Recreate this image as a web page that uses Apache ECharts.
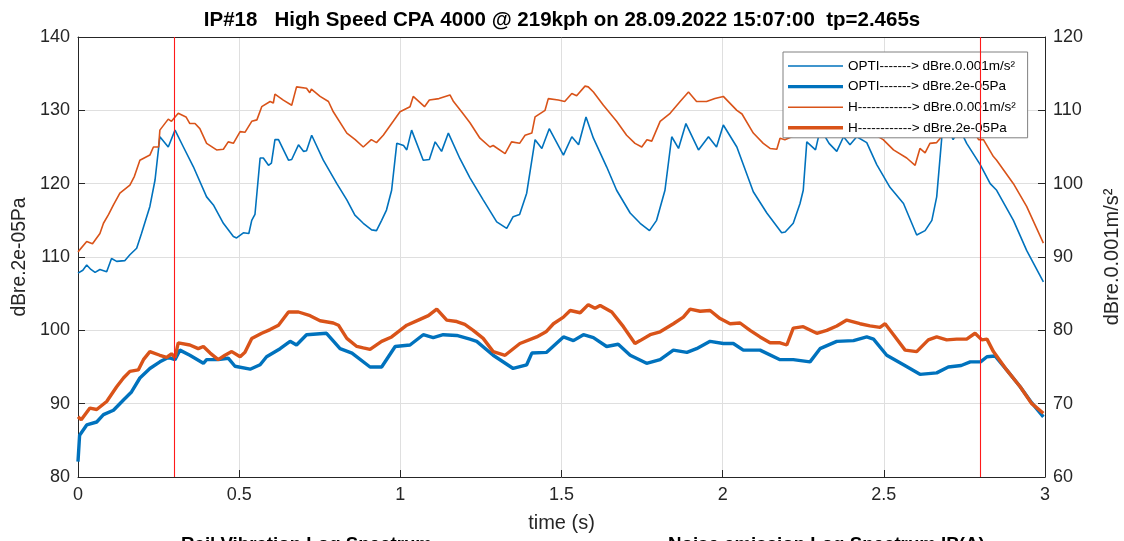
<!DOCTYPE html>
<html>
<head>
<meta charset="utf-8">
<script src="https://cdn.jsdelivr.net/npm/echarts@6/dist/echarts.min.js"></script>
<style>
  html, body { margin: 0; padding: 0; background: #fff; }
  #chart { width: 1124px; height: 541px; }
</style>
</head>
<body>
<div id="chart"></div>
<script>
// ---------------- DATA ----------------
const titleText = 'IP#18   High Speed CPA 4000 @ 219kph on 28.09.2022 15:07:00  tp=2.465s';
const seriesNames = [
  'OPTI-------> dBre.0.001m/s\u00B2',
  'OPTI-------> dBre.2e-05Pa',
  'H------------> dBre.0.001m/s\u00B2',
  'H------------> dBre.2e-05Pa'
];
const markerTimes = [0.3, 2.8];
const xTicks = { min: 0, max: 3, interval: 0.5 };
const leftTicks = { min: 80, max: 140, interval: 10 };
const rightTicks = { min: 60, max: 120, interval: 10 };
const bottomLabels = ['Rail Vibration Log Spectrum', 'Noise emission Log Spectrum IP(A)'];

// OPTI acceleration level (right axis, dBre.0.001m/s²)
const optiAcc = [
  [0.000,87.8],[0.015,88.2],[0.027,88.9],[0.040,88.3],[0.053,87.9],[0.068,88.3],[0.089,88.0],
  [0.104,89.8],[0.120,89.4],[0.145,89.5],[0.161,90.3],[0.182,91.2],[0.197,93.2],[0.223,96.9],
  [0.239,100.5],[0.254,106.4],[0.280,105.0],[0.301,107.3],[0.327,105.0],[0.358,102.3],[0.399,98.2],
  [0.420,97.1],[0.451,94.6],[0.482,92.8],[0.492,92.6],[0.513,93.3],[0.530,93.2],[0.539,95.0],
  [0.549,95.8],[0.565,103.5],[0.575,103.5],[0.591,102.5],[0.600,102.8],[0.611,106.0],[0.622,106.0],
  [0.653,103.2],[0.663,103.3],[0.684,105.3],[0.700,104.4],[0.709,104.5],[0.725,106.6],[0.761,103.2],
  [0.803,100.0],[0.834,97.8],[0.859,95.7],[0.885,94.6],[0.911,93.7],[0.926,93.6],[0.942,95.0],
  [0.957,96.4],[0.973,99.1],[0.989,105.5],[1.010,105.2],[1.020,104.6],[1.035,107.3],[1.071,103.2],
  [1.090,103.3],[1.108,105.7],[1.128,104.4],[1.149,106.9],[1.185,103.4],[1.216,100.8],[1.257,97.8],
  [1.299,94.8],[1.330,93.9],[1.350,95.5],[1.370,95.8],[1.392,98.7],[1.418,106.0],[1.439,104.8],
  [1.462,107.5],[1.506,103.9],[1.532,106.4],[1.553,105.3],[1.576,109.1],[1.599,106.2],[1.640,102.3],
  [1.671,99.1],[1.713,96.0],[1.744,94.6],[1.773,93.6],[1.795,95.0],[1.821,99.1],[1.842,106.4],
  [1.863,104.8],[1.886,108.2],[1.925,104.6],[1.956,106.4],[1.981,105.0],[2.002,108.0],[2.044,105.0],
  [2.095,98.9],[2.137,96.0],[2.183,93.3],[2.194,93.4],[2.219,94.6],[2.240,97.3],[2.250,99.1],
  [2.261,105.7],[2.288,104.6],[2.302,107.3],[2.318,106.4],[2.330,105.5],[2.354,104.4],[2.375,106.4],
  [2.395,105.3],[2.416,106.4],[2.447,105.6],[2.478,102.6],[2.519,99.5],[2.561,97.3],[2.602,93.0],
  [2.628,93.6],[2.649,95.0],[2.664,98.2],[2.680,106.4],[2.695,108.0],[2.715,106.0],[2.735,107.5],
  [2.757,105.5],[2.799,102.6],[2.830,100.0],[2.850,99.1],[2.902,95.0],[2.943,90.9],[2.995,86.6]
];

// OPTI sound level (left axis, dBre.2e-05Pa)
const optiPa = [
  [0.000,82.1],[0.005,85.7],[0.027,87.1],[0.058,87.5],[0.079,88.5],[0.110,89.1],[0.141,90.5],
  [0.166,91.6],[0.192,93.5],[0.223,94.8],[0.254,95.7],[0.280,96.3],[0.301,96.0],[0.316,97.3],
  [0.347,96.6],[0.389,95.5],[0.399,96.0],[0.435,96.0],[0.466,96.2],[0.487,95.1],[0.534,94.7],
  [0.565,95.3],[0.585,96.4],[0.627,97.5],[0.658,98.5],[0.678,98.0],[0.709,99.4],[0.771,99.6],
  [0.813,97.5],[0.850,96.9],[0.906,95.0],[0.942,95.0],[0.984,97.8],[1.030,98.0],[1.071,99.4],
  [1.102,99.0],[1.133,99.4],[1.175,99.3],[1.216,98.8],[1.237,98.5],[1.288,96.6],[1.350,94.8],
  [1.392,95.3],[1.408,96.9],[1.454,97.0],[1.506,99.1],[1.537,98.6],[1.568,99.4],[1.599,99.0],
  [1.640,97.8],[1.676,98.1],[1.713,96.6],[1.764,95.5],[1.806,96.0],[1.847,97.3],[1.889,97.0],
  [1.919,97.5],[1.961,98.5],[2.002,98.2],[2.033,98.2],[2.064,97.3],[2.116,97.3],[2.178,96.0],
  [2.219,96.0],[2.271,95.7],[2.302,97.5],[2.354,98.5],[2.406,98.6],[2.447,99.1],[2.468,98.8],
  [2.509,96.6],[2.561,95.3],[2.612,94.0],[2.664,94.2],[2.700,95.0],[2.740,95.2],[2.768,95.7],
  [2.800,95.7],[2.820,96.4],[2.845,96.5],[2.881,94.6],[2.923,92.3],[2.959,90.1],[2.995,88.2]
];

// H acceleration level (right axis, dBre.0.001m/s²)
const hAcc = [
  [0.000,90.7],[0.027,92.1],[0.045,91.8],[0.068,93.2],[0.079,94.6],[0.095,95.8],[0.110,97.1],
  [0.130,98.7],[0.161,99.8],[0.175,101.0],[0.192,103.2],[0.223,103.9],[0.234,105.0],[0.250,105.0],
  [0.254,107.3],[0.280,108.8],[0.290,108.5],[0.311,109.6],[0.335,109.1],[0.347,108.2],[0.363,108.2],
  [0.378,107.5],[0.399,105.5],[0.430,104.6],[0.451,104.7],[0.466,105.7],[0.482,105.5],[0.503,107.1],
  [0.518,107.0],[0.539,108.5],[0.555,108.7],[0.570,110.5],[0.596,111.2],[0.606,111.0],[0.611,112.2],
  [0.637,111.4],[0.663,110.7],[0.678,113.2],[0.709,113.0],[0.719,112.4],[0.724,112.9],[0.751,111.9],
  [0.777,111.2],[0.792,109.8],[0.834,106.9],[0.860,106.0],[0.885,105.0],[0.910,106.0],[0.926,105.6],
  [0.947,106.6],[0.978,108.5],[0.999,109.8],[1.030,110.5],[1.040,111.9],[1.075,110.5],[1.090,111.4],
  [1.120,111.6],[1.154,112.1],[1.165,111.2],[1.190,109.8],[1.216,108.3],[1.247,106.2],[1.278,105.0],
  [1.288,105.2],[1.325,104.1],[1.345,105.7],[1.370,105.5],[1.387,106.6],[1.408,106.9],[1.418,109.1],
  [1.449,110.0],[1.459,111.6],[1.490,111.4],[1.510,111.2],[1.532,112.3],[1.547,112.0],[1.573,113.3],
  [1.583,113.2],[1.599,112.5],[1.630,110.7],[1.671,108.5],[1.702,106.6],[1.728,105.5],[1.749,105.0],
  [1.765,106.0],[1.780,105.8],[1.806,108.5],[1.837,109.6],[1.868,111.2],[1.894,112.5],[1.919,111.2],
  [1.950,111.2],[1.976,111.6],[2.002,111.9],[2.044,110.0],[2.060,109.5],[2.095,106.9],[2.126,105.5],
  [2.147,104.8],[2.168,104.7],[2.178,106.2],[2.193,106.0],[2.220,106.5],[2.260,107.5],[2.300,107.0],
  [2.340,107.8],[2.380,108.0],[2.420,107.6],[2.460,107.0],[2.498,106.0],[2.530,104.6],[2.571,103.5],
  [2.597,102.5],[2.612,104.8],[2.628,104.2],[2.643,105.5],[2.664,105.6],[2.675,106.2],[2.700,108.5],
  [2.730,109.5],[2.760,108.5],[2.794,106.0],[2.809,106.0],[2.840,103.7],[2.850,103.2],[2.902,100.0],
  [2.943,96.9],[2.995,91.9]
];

// H sound level (left axis, dBre.2e-05Pa)
const hPa = [
  [0.000,88.2],[0.010,87.8],[0.037,89.4],[0.058,89.2],[0.089,90.3],[0.120,92.3],[0.141,93.5],
  [0.161,94.4],[0.187,94.6],[0.203,96.0],[0.223,97.1],[0.254,96.6],[0.275,96.3],[0.290,96.8],
  [0.301,96.3],[0.311,98.3],[0.347,98.0],[0.373,97.5],[0.389,97.8],[0.410,96.9],[0.435,96.0],
  [0.456,96.6],[0.477,97.1],[0.503,96.4],[0.518,97.0],[0.539,98.9],[0.570,99.6],[0.596,100.1],
  [0.622,100.7],[0.653,102.5],[0.684,102.5],[0.720,102.0],[0.751,101.3],[0.792,101.0],[0.808,100.7],
  [0.834,98.9],[0.865,97.8],[0.885,97.6],[0.906,97.4],[0.942,98.5],[0.973,99.1],[1.020,100.7],
  [1.061,101.5],[1.087,102.0],[1.113,102.9],[1.144,101.4],[1.175,101.2],[1.200,100.8],[1.226,100.0],
  [1.257,98.9],[1.288,97.1],[1.325,96.6],[1.371,98.2],[1.423,99.1],[1.452,99.8],[1.475,100.9],
  [1.506,101.8],[1.527,102.7],[1.558,102.4],[1.583,103.5],[1.604,103.0],[1.620,103.4],[1.656,102.5],
  [1.692,100.5],[1.728,98.2],[1.744,98.6],[1.775,99.4],[1.806,99.8],[1.847,100.9],[1.878,101.8],
  [1.899,102.9],[1.930,102.6],[1.961,102.7],[1.992,101.6],[2.023,100.9],[2.054,101.0],[2.085,100.0],
  [2.116,99.1],[2.147,98.3],[2.178,98.3],[2.199,98.0],[2.219,100.3],[2.250,100.5],[2.292,99.6],
  [2.323,100.0],[2.354,100.6],[2.385,101.4],[2.426,100.9],[2.457,100.6],[2.488,100.4],[2.504,100.9],
  [2.530,99.4],[2.566,97.3],[2.602,97.1],[2.638,98.7],[2.664,99.1],[2.695,98.7],[2.726,98.8],
  [2.757,98.8],[2.783,99.6],[2.804,98.7],[2.820,98.8],[2.840,97.1],[2.881,94.6],[2.923,92.3],
  [2.959,90.0],[2.995,88.7]
];

// ---------------- CHART ----------------
const FONT = '"Liberation Sans", Arial, Helvetica, sans-serif';
const AX = '#262626';
const BLUE = '#0072BD';
const ORANGE = '#D95319';
const THIN = 1.6, THICK = 3.4;

const chart = echarts.init(document.getElementById('chart'), null, { renderer: 'canvas' });

function lineSeries(name, data, yIdx, color, width, extra) {
  return Object.assign({
    name, type: 'line', data, yAxisIndex: yIdx, xAxisIndex: 0,
    showSymbol: false, symbol: 'none', smooth: false,
    lineStyle: { color, width }, itemStyle: { color },
    emphasis: { disabled: true }, silent: true, animation: false
  }, extra || {});
}
const iconFor = w => 'path://M0,0H55V' + w + 'H0Z';
const widths = [THIN, THICK, THIN, THICK];

const option = {
  animation: false,
  textStyle: { fontFamily: FONT },
  title: {
    text: titleText, left: 'center', top: 5,
    textStyle: { fontFamily: FONT, fontSize: 20.5, fontWeight: 'bold', color: '#000' }
  },
  grid: { left: 78, right: 79, top: 37, bottom: 64, containLabel: false, outerBoundsMode: 'none' },
  legend: {
    show: true, type: 'plain', orient: 'vertical', left: 783, top: 52,
    backgroundColor: '#ffffff', borderColor: '#808080', borderWidth: 1, borderRadius: 0,
    padding: [7, 12, 3, 5], itemWidth: 55, itemHeight: 14, itemGap: 6.6,
    symbolKeepAspect: true,
    textStyle: { fontFamily: FONT, fontSize: 13.5, color: '#000', lineHeight: 14 },
    data: seriesNames.map((n, i) => ({ name: n, icon: iconFor(widths[i]) })),
    selectedMode: false
  },
  xAxis: [{
    type: 'value', position: 'bottom', min: xTicks.min, max: xTicks.max, interval: xTicks.interval,
    name: 'time (s)', nameLocation: 'middle', nameGap: 36,
    nameTextStyle: { fontFamily: FONT, fontSize: 20, color: AX },
    axisLine: { show: true, onZero: false, lineStyle: { color: AX, width: 1 } },
    axisTick: { show: true, inside: true, length: 7, lineStyle: { color: AX } },
    axisLabel: { fontFamily: FONT, fontSize: 18, color: AX, margin: 9 },
    splitLine: { show: true, lineStyle: { color: '#dfdfdf', width: 1 } }
  }, {
    type: 'value', position: 'top', min: xTicks.min, max: xTicks.max, interval: xTicks.interval,
    axisLine: { show: true, onZero: false, lineStyle: { color: AX, width: 1 } },
    axisTick: { show: false }, axisLabel: { show: false }, splitLine: { show: false }
  }],
  yAxis: [{
    type: 'value', position: 'left', min: leftTicks.min, max: leftTicks.max, interval: leftTicks.interval,
    name: 'dBre.2e-05Pa', nameLocation: 'middle', nameGap: 47, nameRotate: 90,
    nameTextStyle: { fontFamily: FONT, fontSize: 19.3, color: AX },
    axisLine: { show: true, onZero: false, lineStyle: { color: AX, width: 1 } },
    axisTick: { show: true, inside: true, length: 7, lineStyle: { color: AX } },
    axisLabel: { fontFamily: FONT, fontSize: 18, color: AX, margin: 8 },
    splitLine: { show: true, lineStyle: { color: '#dfdfdf', width: 1 } }
  }, {
    type: 'value', position: 'right', min: rightTicks.min, max: rightTicks.max, interval: rightTicks.interval,
    name: 'dBre.0.001m/s\u00B2', nameLocation: 'middle', nameGap: 57, nameRotate: 90,
    nameTextStyle: { fontFamily: FONT, fontSize: 20, color: AX },
    axisLine: { show: true, onZero: false, lineStyle: { color: AX, width: 1 } },
    axisTick: { show: true, inside: true, length: 7, lineStyle: { color: AX } },
    axisLabel: { fontFamily: FONT, fontSize: 18, color: AX, margin: 8 },
    splitLine: { show: false }
  }],
  series: [
    lineSeries(seriesNames[0], optiAcc, 1, BLUE, THIN, {
      markLine: {
        silent: true, symbol: ['none', 'none'], animation: false,
        label: { show: false },
        lineStyle: { color: '#ff1a1a', width: 1.1, type: 'solid' },
        emphasis: { disabled: true },
        data: markerTimes.map(t => ({ xAxis: t }))
      }
    }),
    lineSeries(seriesNames[1], optiPa, 0, BLUE, THICK),
    lineSeries(seriesNames[2], hAcc, 1, ORANGE, THIN),
    lineSeries(seriesNames[3], hPa, 0, ORANGE, THICK)
  ],
  graphic: [
    { type: 'text', left: 181, top: 535, style: { text: bottomLabels[0], font: 'bold 18.7px ' + FONT, fill: '#000' } },
    { type: 'text', left: 668, top: 535, style: { text: bottomLabels[1], font: 'bold 18.7px ' + FONT, fill: '#000' } }
  ]
};
chart.setOption(option);
</script>
</body>
</html>
